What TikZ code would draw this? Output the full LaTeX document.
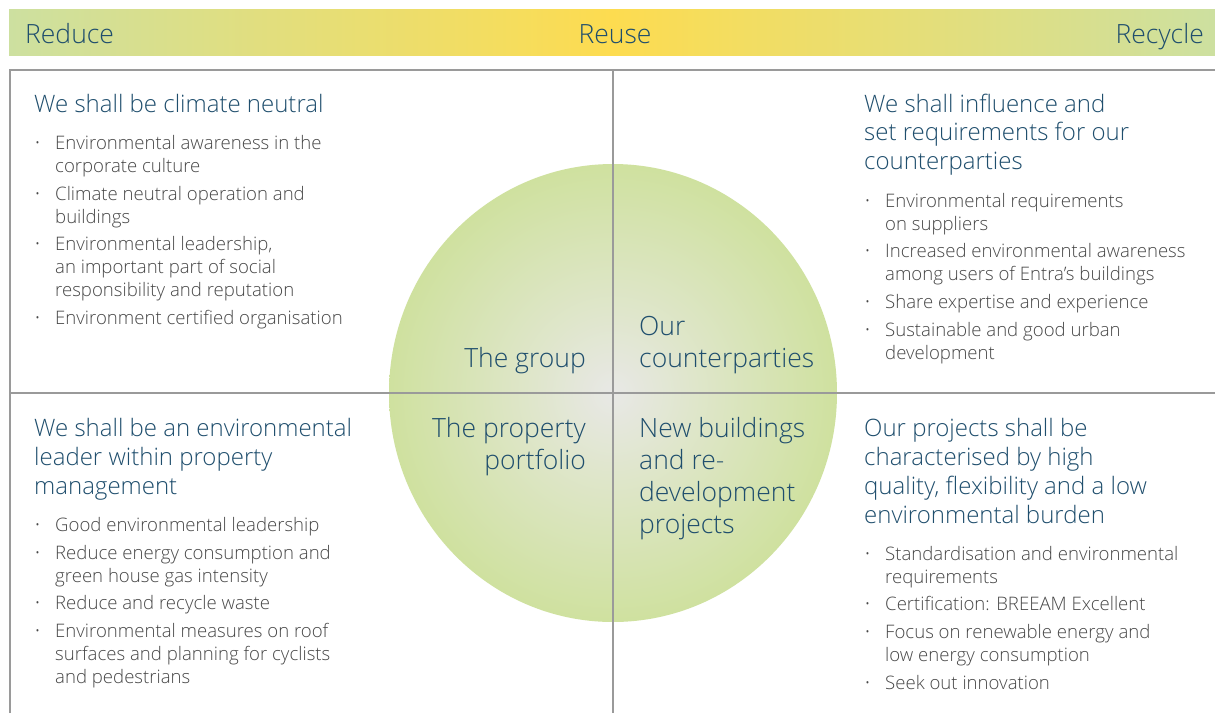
\documentclass[tikz,border=0pt]{standalone}
\usepackage{fontspec}
\setmainfont{Open Sans}
\newfontfamily\lt{Open Sans Light}
\definecolor{headblue}{HTML}{1F4E6D}
\definecolor{bodygray}{HTML}{474747}
\definecolor{linegray}{HTML}{9A9A9A}
\definecolor{cin}{HTML}{E8E8E6}
\definecolor{cmid}{HTML}{DFE6CB}
\definecolor{cout}{HTML}{CFE19F}
\definecolor{bangreen}{HTML}{CDE0A0}
\definecolor{banyellow}{HTML}{FDDC50}
\pgfdeclareradialshading{discshade}{\pgfpoint{0bp}{0bp}}{color(0bp)=(cin); color(9bp)=(cmid); color(25bp)=(cout); color(50bp)=(cout)}
\pgfdeclarehorizontalshading{banshade}{100bp}{color(0bp)=(bangreen); color(25bp)=(bangreen); color(50bp)=(banyellow); color(75bp)=(bangreen); color(100bp)=(bangreen)}
\newcommand\itm[1]{\hbox to 20pt{\raisebox{1.2pt}{\fontsize{13}{13}\selectfont •}\hfil}\vtop{\baselineskip=23pt #1}}
\newcommand\Ln[1]{\hbox{#1}}
\newcommand\Rt[1]{\hbox to 200pt{\hfil #1}}
\begin{document}
\begin{tikzpicture}[x=1pt,y=-1pt,
  banlabel/.style={inner sep=0pt,font=\lt\fontsize{26.5}{32}\selectfont,text=headblue},
  headtxt/.style={inner sep=0pt,anchor=base west,font=\lt\fontsize{24}{29}\selectfont,text=headblue},
  itemtxt/.style={inner sep=0pt,anchor=base west,font=\lt\fontsize{18.6}{23}\selectfont,text=bodygray},
  disclabel/.style={inner sep=0pt,font=\lt\fontsize{26.5}{32}\selectfont,text=headblue},
  grid/.style={draw=linegray,line width=1.3pt}]
\useasboundingbox (0,0) rectangle (1215,713);
\fill[white] (0,0) rectangle (1215,713);
% banner
\shade[shading=banshade] (9,9) rectangle (1215,55);
\node[banlabel,anchor=base west] (reduce) at (25,43) {Reduce};
\node[banlabel,anchor=base] (reuse) at (615,43) {Reuse};
\node[banlabel,anchor=base east] (recycle) at (1204,43) {Recycle};
% disc
\shade[shading=discshade] (613,393) ellipse [x radius=224,y radius=229];
% grid
\coordinate (tl) at (10,70);
\coordinate (tr) at (1215,70);
\coordinate (bl) at (10,713);
\coordinate (mt) at (613,70);
\coordinate (mb) at (613,713);
\coordinate (ml) at (10,393);
\coordinate (mr) at (1215,393);
\draw[grid] (bl) -- (tl) -- (tr);
\draw[grid] (mt) -- (mb);
\draw[grid] (ml) -- (mr);
% disc labels
\node[disclabel,anchor=base east] (group) at (586,367) {The group};
\node[disclabel,anchor=base west] (ourc) at (639,335) {\vtop{\baselineskip=32pt\Ln{Our}\Ln{counterparties}}};
\node[disclabel,anchor=base east] (portf) at (586,437) {\vtop{\baselineskip=32pt\Rt{The property}\Rt{portfolio}}};
\node[disclabel,anchor=base west] (newb) at (639,437) {\vtop{\baselineskip=32pt\Ln{New buildings}\Ln{and re-}\Ln{development}\Ln{projects}}};
% top left
\node[headtxt] (h1) at (34,112) {We shall be climate neutral};
\node[itemtxt] (a1) at (35,149) {\itm{\Ln{Environmental awareness in the}\Ln{corporate culture}}};
\node[itemtxt] (a2) at (35,200) {\itm{\Ln{Climate neutral operation and}\Ln{buildings}}};
\node[itemtxt] (a3) at (35,250) {\itm{\Ln{Environmental leadership,}\Ln{an important part of social}\Ln{responsibility and reputation}}};
\node[itemtxt] (a4) at (35,324) {\itm{\Ln{Environment certified organisation}}};
% top right
\node[headtxt] (h2) at (864,112) {\vtop{\baselineskip=28.5pt\Ln{We shall influence and}\Ln{set requirements for our}\Ln{counterparties}}};
\node[itemtxt] (b1) at (865,207) {\itm{\Ln{Environmental requirements}\Ln{on suppliers}}};
\node[itemtxt] (b2) at (865,257) {\itm{\Ln{Increased environmental awareness}\Ln{among users of Entra’s buildings}}};
\node[itemtxt] (b3) at (865,308) {\itm{\Ln{Share expertise and experience}}};
\node[itemtxt] (b4) at (865,336) {\itm{\Ln{Sustainable and good urban}\Ln{development}}};
% bottom left
\node[headtxt] (h3) at (34,436) {\vtop{\baselineskip=29pt\Ln{We shall be an environmental}\Ln{leader within property}\Ln{management}}};
\node[itemtxt] (c1) at (35,531) {\itm{\Ln{Good environmental leadership}}};
\node[itemtxt] (c2) at (35,559) {\itm{\Ln{Reduce energy consumption and}\Ln{green house gas intensity}}};
\node[itemtxt] (c3) at (35,609) {\itm{\Ln{Reduce and recycle waste}}};
\node[itemtxt] (c4) at (35,637) {\itm{\Ln{Environmental measures on roof}\Ln{surfaces and planning for cyclists}\Ln{and pedestrians}}};
% bottom right
\node[headtxt] (h4) at (864,436) {\vtop{\baselineskip=29pt\Ln{Our projects shall be}\Ln{characterised by high}\Ln{quality, flexibility and a low}\Ln{environmental burden}}};
\node[itemtxt] (d1) at (865,560) {\itm{\Ln{Standardisation and environmental}\Ln{requirements}}};
\node[itemtxt] (d2) at (865,610) {\itm{\Ln{Certification: BREEAM Excellent}}};
\node[itemtxt] (d3) at (865,638) {\itm{\Ln{Focus on renewable energy and}\Ln{low energy consumption}}};
\node[itemtxt] (d4) at (865,689) {\itm{\Ln{Seek out innovation}}};
\end{tikzpicture}
\end{document}
